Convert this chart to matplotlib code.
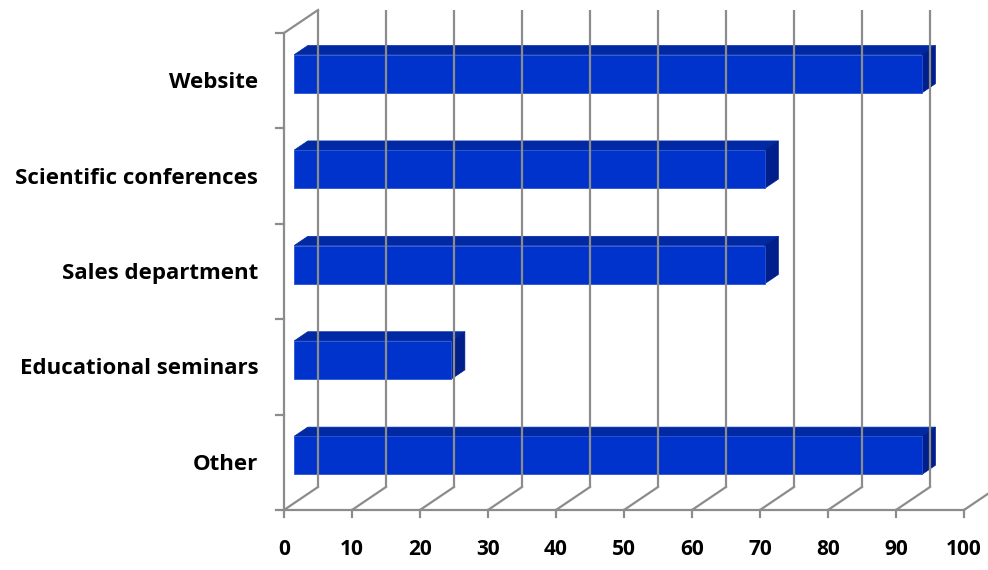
import matplotlib.pyplot as plt
from matplotlib.patches import Polygon

# data
categories = ['Other', 'Educational seminars', 'Sales department',
              'Scientific conferences', 'Website']
values = [92.3, 23.1, 69.2, 69.2, 92.3]
xticks = list(range(0, 101, 10))

# 3d look: depth offset in data units
DX, DY = 5.0, 0.241
F0, F1 = 0.3, 0.7          # bar front/back depth fraction
BAR_LO, BAR_HI = 0.3, 0.7  # bar position inside category band

grid_col = '#8c8c8c'
front_col = '#0033cc'
top_col = '#0029a3'
side_col = '#001f8a'
font = 'Open Sans'

fig = plt.figure(figsize=(9.88, 5.70), dpi=100)
ax = fig.add_axes([0, 0, 1, 1])
ax.set_xlim(-41.76, 103.53)
ax.set_ylim(-0.629, 5.346)
ax.axis('off')

n = len(categories)

# back wall gridlines and floor diagonals
for t in xticks:
    ax.plot([t + DX, t + DX], [DY, n + DY], color=grid_col, lw=1.6,
            solid_capstyle='butt', clip_on=False)
    ax.plot([t, t + DX], [0, DY], color=grid_col, lw=1.6, clip_on=False)
    ax.plot([t, t], [0, -0.075], color=grid_col, lw=1.6)
    ax.text(t, -0.41, str(t), ha='center', va='center', fontsize=15,
            fontweight='bold', family=font)

# left wall + floor front edge
ax.plot([0, 0], [0, n], color=grid_col, lw=1.6)
ax.plot([0, DX], [n, n + DY], color=grid_col, lw=1.6)
ax.plot([0, 100], [0, 0], color=grid_col, lw=1.6)
for k in range(n + 1):
    ax.plot([-1.2, 0], [k, k], color=grid_col, lw=1.6)

# bars
ddx, ddy = (F1 - F0) * DX, (F1 - F0) * DY
for k, (cat, v) in enumerate(zip(categories, values)):
    x0, x1 = F0 * DX, v + F0 * DX
    y0, y1 = k + BAR_LO + F0 * DY, k + BAR_HI + F0 * DY
    front = Polygon([(x0, y0), (x1, y0), (x1, y1), (x0, y1)],
                    facecolor=front_col, edgecolor='#2a55d8', lw=0.6)
    top = Polygon([(x0, y1), (x1, y1), (x1 + ddx, y1 + ddy), (x0 + ddx, y1 + ddy)],
                  facecolor=top_col, edgecolor=top_col, lw=0.5)
    side = Polygon([(x1, y0), (x1 + ddx, y0 + ddy), (x1 + ddx, y1 + ddy), (x1, y1)],
                   facecolor=side_col, edgecolor=side_col, lw=0.5)
    for p in (top, side, front):
        ax.add_patch(p)
    ax.text(-3.8, k + 0.48, cat, ha='right', va='center', fontsize=16,
            fontweight='bold', family=font)

plt.savefig('out.png', dpi=100)
